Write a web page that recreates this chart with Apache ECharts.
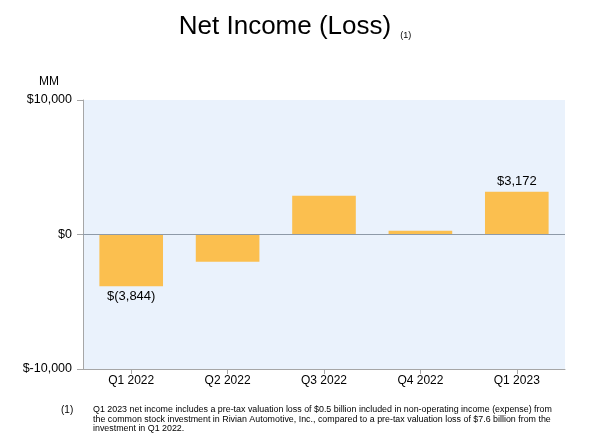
<!DOCTYPE html>
<html><head><meta charset="utf-8">
<script src="https://cdn.jsdelivr.net/npm/echarts@6/dist/echarts.min.js"></script>
<style>html,body{margin:0;padding:0;background:#fff}#c{width:590px;height:440px}</style>
</head><body><div id="c"></div>
<script>
const categories = ['Q1 2022','Q2 2022','Q3 2022','Q4 2022','Q1 2023'];
const netIncome = [-3844, -2028, 2872, 278, 3172];
const labelText = ['$(3,844)', '', '', '', '$3,172'];
const yTicks = [-10000, 0, 10000];
const yTickLabels = {'-10000':'$-10,000','0':'$0','10000':'$10,000'};

const chart = echarts.init(document.getElementById('c'));
const F = 'Liberation Sans, Arial, sans-serif';
chart.setOption({
  animation:false,
  title:{
    text:'{a|Net Income (Loss)} {b|(1)}',
    left:'center', top:9,
    textStyle:{fontWeight:'normal',rich:{a:{fontSize:26,fontFamily:F,color:'#000',fontWeight:'normal'},b:{fontSize:9,fontFamily:F,color:'#000',fontWeight:'normal',verticalAlign:'bottom',padding:[0,0,0,4]}}}
  },
  grid:{left:83,right:25,top:100,bottom:71,backgroundColor:'#EAF2FC',show:true,borderWidth:0},
  xAxis:{
    type:'category', data:categories,
    axisLine:{show:true,onZero:false,lineStyle:{color:'#A6A6A6'}},
    axisTick:{show:true,alignWithLabel:true,length:5,lineStyle:{color:'#A6A6A6'}},
    axisLabel:{fontSize:12,fontFamily:F,color:'#000',margin:6}
  },
  yAxis:{
    type:'value', min:-10000, max:10000, interval:10000,
    name:'MM', nameLocation:'end', nameGap:12,
    nameTextStyle:{fontSize:12,fontFamily:F,color:'#000',align:'right',padding:[0,24,0,0]},
    axisLine:{show:true,lineStyle:{color:'#A6A6A6'}},
    axisTick:{show:true,length:6,lineStyle:{color:'#A6A6A6'}},
    splitLine:{show:false},
    axisLabel:{fontSize:12.5,fontFamily:F,color:'#000',margin:11,formatter:v=>yTickLabels[String(v)]}
  },
  series:[{
    type:'bar', data:netIncome.map((v,i)=>({value:v,label:{show:!!labelText[i],position:v<0?'bottom':'top'}})),
    barWidth:'66%',
    itemStyle:{color:'#FBBF4F'},
    label:{fontSize:13,fontFamily:F,color:'#000',distance:4,formatter:p=>labelText[p.dataIndex]},
    markLine:{silent:true,symbol:'none',label:{show:false},lineStyle:{color:'#8E9AA8',type:'solid',width:1},data:[{yAxis:0}]}
  }],
  graphic:[
    {type:'text',left:61,top:405,style:{text:'(1)',fontSize:10,fontFamily:F,fill:'#000'}},
    {type:'text',left:93,top:405,style:{text:'Q1 2023 net income includes a pre-tax valuation loss of $0.5 billion included in non-operating income (expense) from\nthe common stock investment in Rivian Automotive, Inc., compared to a pre-tax valuation loss of $7.6 billion from the\ninvestment in Q1 2022.',fontSize:8.9,lineHeight:9.5,fontFamily:F,fill:'#000'}}
  ]
});
</script></body></html>
